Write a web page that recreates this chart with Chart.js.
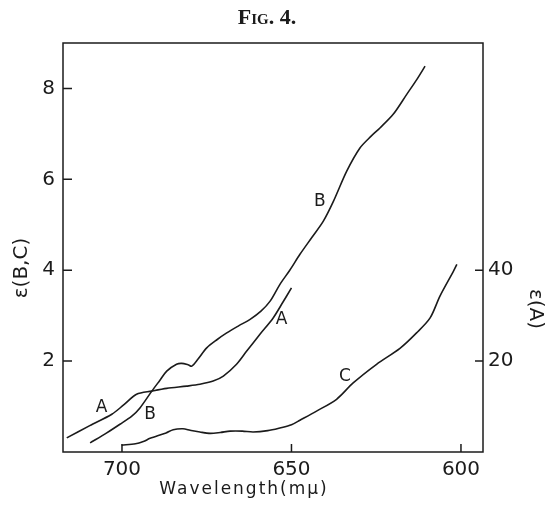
<!DOCTYPE html>
<html>
<head>
<meta charset="utf-8">
<script src="https://cdn.jsdelivr.net/npm/chart.js@4.4.1/dist/chart.umd.min.js"></script>
<style>
  body { margin: 0; background: #fff; }
  #wrap { width: 548px; height: 505px; }
</style>
</head>
<body>
<div id="wrap"><canvas id="fig4"></canvas></div>
<script>
// wavelength (m\u03bc) and extinction
const waveA = [716.3, 709.5, 703.0, 699.6, 695.7, 691.2, 686.8, 680.9, 677.0, 673.1, 670.1, 666.2, 663.2, 659.3, 655.4, 652.5, 650.0];
const epsA  = [3.1, 5.8, 8.3, 10.3, 12.7, 13.4, 14.0, 14.5, 14.9, 15.6, 16.7, 19.3, 22.2, 25.9, 29.5, 33.0, 36.1];

const waveB = [709.4, 704.5, 700.6, 697.1, 694.7, 691.2, 688.8, 686.8, 683.9, 682.4, 680.5, 679.4, 677.5, 675.0, 672.0, 669.1, 665.5, 662.2, 659.0, 656.3, 653.4, 650.5, 647.5, 644.0, 640.6, 637.6, 633.7, 629.8, 626.5, 623.9, 620.0, 616.0, 613.0, 610.6];
const epsB  = [0.20, 0.42, 0.61, 0.79, 0.97, 1.34, 1.58, 1.78, 1.93, 1.95, 1.92, 1.89, 2.05, 2.29, 2.47, 2.62, 2.78, 2.92, 3.10, 3.32, 3.69, 4.00, 4.35, 4.72, 5.08, 5.52, 6.18, 6.69, 6.95, 7.13, 7.43, 7.87, 8.20, 8.49];

const waveC = [700.1, 696.0, 693.7, 691.7, 687.0, 684.9, 682.0, 679.9, 677.0, 674.0, 671.0, 668.1, 664.5, 661.3, 657.0, 653.4, 650.0, 647.5, 642.6, 636.7, 631.8, 624.9, 618.0, 613.1, 609.1, 606.2, 602.2, 601.2];
const epsC  = [0.15, 0.18, 0.23, 0.30, 0.42, 0.49, 0.51, 0.48, 0.44, 0.41, 0.43, 0.46, 0.46, 0.44, 0.47, 0.53, 0.60, 0.70, 0.90, 1.16, 1.52, 1.93, 2.28, 2.62, 2.95, 3.43, 3.98, 4.13];

const xTicks = [700, 650, 600];
const leftTicks = [2, 4, 6, 8];
const rightTicks = [20, 40];

// curve letters, placed in (wavelength, eps(B,C)) units
const curveNames = ['A', 'B', 'A', 'C', 'B'];
const curveNameWave = [706.0, 691.7, 652.9, 634.2, 641.6];
const curveNameEps = [0.97, 0.83, 2.92, 1.67, 5.52];

const ink = '#1b1b1b';
const sans = '"DejaVu Sans", sans-serif';

const toPoints = (xs, ys) => xs.map((x, i) => ({ x: x, y: ys[i] }));

const lineStyle = {
  borderColor: ink,
  borderWidth: 1.6,
  pointRadius: 0,
  tension: 0.3,
  fill: false
};

const figDecor = {
  id: 'figDecor',
  afterDraw: chart => {
    const ctx = chart.ctx;
    const a = chart.chartArea;
    const sx = chart.scales.x, sy = chart.scales.y, sy2 = chart.scales.y2;
    ctx.save();
    ctx.strokeStyle = ink;
    ctx.lineWidth = 1.5;
    ctx.strokeRect(a.left, a.top, a.right - a.left, a.bottom - a.top);

    // inward tick marks
    ctx.beginPath();
    xTicks.forEach(v => {
      const px = sx.getPixelForValue(v);
      ctx.moveTo(px, a.bottom); ctx.lineTo(px, a.bottom - 8);
    });
    leftTicks.forEach(v => {
      const py = sy.getPixelForValue(v);
      ctx.moveTo(a.left, py); ctx.lineTo(a.left + 9, py);
    });
    rightTicks.forEach(v => {
      const py = sy2.getPixelForValue(v);
      ctx.moveTo(a.right, py); ctx.lineTo(a.right - 8, py);
    });
    ctx.stroke();

    ctx.fillStyle = ink;
    // title
    ctx.font = 'bold 22px "Liberation Serif", serif';
    ctx.fontVariantCaps = 'small-caps';
    ctx.textAlign = 'center';
    ctx.textBaseline = 'middle';
    ctx.fillText('Fig. 4.', 267, 18);
    ctx.fontVariantCaps = 'normal';

    // curve letters
    ctx.font = '17px ' + sans;
    curveNames.forEach((n, i) => {
      ctx.fillText(n, sx.getPixelForValue(curveNameWave[i]), sy.getPixelForValue(curveNameEps[i]));
    });

    // axis titles
    ctx.font = '17px ' + sans;
    ctx.letterSpacing = '2px';
    ctx.fillText('Wavelength(m\u03bc)', 244, 490);
    ctx.letterSpacing = '0px';

    ctx.font = '20px ' + sans;
    ctx.save();
    ctx.translate(22, 268);
    ctx.rotate(-Math.PI / 2);
    ctx.fillText('\u03b5(B,C)', 0, 0);
    ctx.restore();

    ctx.save();
    ctx.translate(535, 309);
    ctx.rotate(Math.PI / 2);
    ctx.fillText('\u03b5(A)', 0, 0);
    ctx.restore();
    ctx.restore();
  }
};

new Chart(document.getElementById('fig4'), {
  type: 'line',
  data: {
    datasets: [
      Object.assign({ label: 'A', data: toPoints(waveA, epsA), yAxisID: 'y2' }, lineStyle),
      Object.assign({ label: 'B', data: toPoints(waveB, epsB), yAxisID: 'y' }, lineStyle),
      Object.assign({ label: 'C', data: toPoints(waveC, epsC), yAxisID: 'y' }, lineStyle)
    ]
  },
  options: {
    responsive: true,
    maintainAspectRatio: false,
    animation: false,
    layout: { padding: { top: 43, left: 0, right: 0, bottom: 0 } },
    plugins: {
      legend: { display: false },
      tooltip: { enabled: false }
    },
    scales: {
      x: {
        type: 'linear',
        reverse: true,
        min: 593.5,
        max: 717.4,
        grid: { display: false, drawTicks: false },
        border: { display: false },
        afterBuildTicks: s => { s.ticks = xTicks.map(v => ({ value: v })); },
        afterFit: s => { s.height = 53; },
        ticks: { color: ink, font: { family: sans, size: 20 }, padding: 6, maxRotation: 0 }
      },
      y: {
        position: 'left',
        min: 0,
        max: 9,
        grid: { display: false, drawTicks: false },
        border: { display: false },
        afterBuildTicks: s => { s.ticks = leftTicks.map(v => ({ value: v })); },
        afterFit: s => { s.width = 63; },
        ticks: { color: ink, font: { family: sans, size: 20 }, padding: 8 }
      },
      y2: {
        position: 'right',
        min: 0,
        max: 90,
        grid: { display: false, drawTicks: false },
        border: { display: false },
        afterBuildTicks: s => { s.ticks = rightTicks.map(v => ({ value: v })); },
        afterFit: s => { s.width = 65; },
        ticks: { color: ink, font: { family: sans, size: 20 }, padding: 5 }
      }
    }
  },
  plugins: [figDecor]
});
</script>
</body>
</html>
